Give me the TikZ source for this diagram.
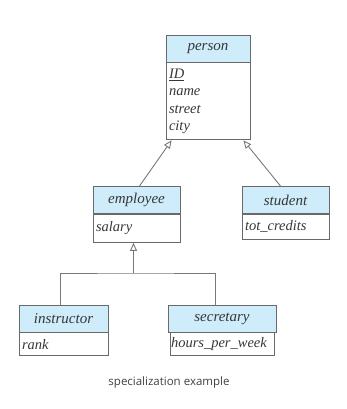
\documentclass[tikz,border=0pt]{standalone}
\usepackage{fontspec}
\setmainfont{Liberation Serif}
\newfontfamily\capfont{Open Sans}
\usepackage{tikz}
\usetikzlibrary{positioning}
\usetikzlibrary{arrows.meta}
\definecolor{hdrblue}{RGB}{206,236,249}
\definecolor{boxgray}{RGB}{105,105,105}
\definecolor{linegray}{RGB}{120,120,120}
\definecolor{inkgray}{RGB}{55,55,55}

\begin{document}
\begin{tikzpicture}[x=1pt,y=-1pt,
    hdr/.style={draw=boxgray,fill=hdrblue,line width=0.9pt,inner sep=0pt,text=inkgray,
      minimum height=27pt,font=\fontsize{15}{17}\selectfont\itshape},
    attr/.style={draw=boxgray,fill=white,line width=0.9pt,inner xsep=3pt,inner ysep=0pt,text=inkgray,
      align=left,anchor=north,font=\fontsize{14.5}{17.5}\selectfont\itshape},
    isa/.style={draw=linegray,line width=0.9pt,-{Triangle[open,length=8pt,width=7pt]}},
    link/.style={draw=linegray,line width=0.9pt}]
    \useasboundingbox (0,0) rectangle (347,409);
    % superclass
    \node[hdr,minimum width=84pt] (person) at (208,48.5) {person};
    \node[attr,text width=78pt,minimum height=77pt,below=0pt of person] (personattr)
      {\underline{ID}\\name\\street\\city};
    % first level
    \node[hdr,minimum width=87pt] (employee) at (136.5,200) {employee};
    \node[attr,text width=81pt,minimum height=28pt,below=0pt of employee] (employeeattr) {salary};
    \node[hdr,minimum width=87pt] (student) at (285.5,200) {student};
    \node[attr,text width=81pt,minimum height=25pt,below=0pt of student] (studentattr) {tot\_credits};
    % second level
    \node[hdr,minimum width=89pt] (instructor) at (63.5,318.5) {instructor};
    \node[attr,text width=83pt,minimum height=23pt,below=0pt of instructor] (instructorattr) {rank};
    \node[hdr,minimum width=108pt] (secretary) at (222,318.5) {secretary};
    \node[attr,text width=102pt,minimum height=23pt,inner xsep=1pt,below=0pt of secretary] (secretaryattr) {hours\_per\_week};
    % generalisation arrows
    \draw[isa] ([xshift=3pt]employee.north) -- ([xshift=6pt]personattr.south west);
    \draw[isa] ([xshift=-5pt]student.north) -- ([xshift=-7pt]personattr.south east);
    \coordinate (split) at (133.5,273);
    \draw[link] ([xshift=-3pt]instructor.north) |- (split) -| ([xshift=-7pt]secretary.north);
    \draw[isa] (split) -- (split |- employeeattr.south);
    \node[font=\capfont\fontsize{11.5}{13}\selectfont,text=black!75] (caption) at (169,383)
      {specialization example};
  \end{tikzpicture}
\end{document}
